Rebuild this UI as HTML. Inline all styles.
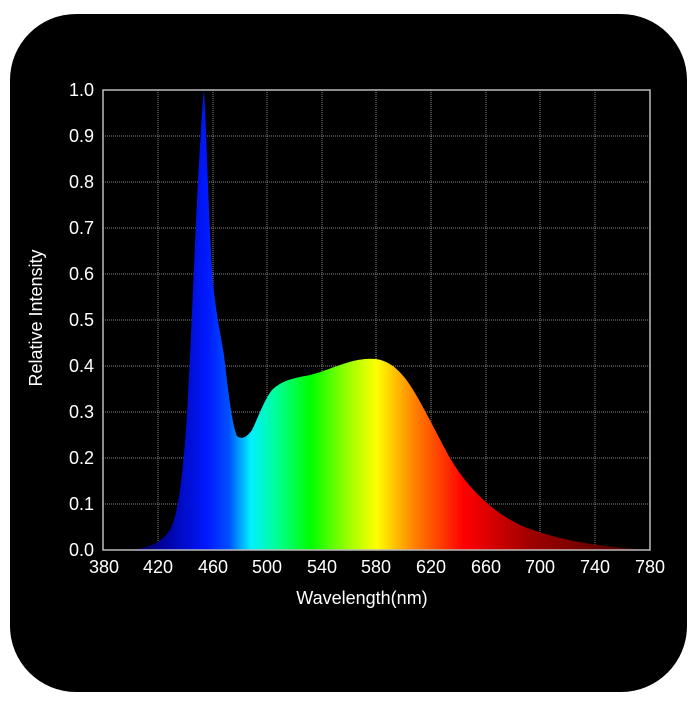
<!DOCTYPE html>
<html><head><style>html,body{margin:0;padding:0;background:#fff;}</style></head>
<body>
<svg width="700" height="700" xmlns="http://www.w3.org/2000/svg" font-family="Liberation Sans, sans-serif">
<rect x="0" y="0" width="700" height="700" fill="#fff"/>
<rect x="10" y="14" width="677" height="678" rx="66" ry="66" fill="#000"/>
<defs>
<linearGradient id="sp" gradientUnits="userSpaceOnUse" x1="103" y1="0" x2="650" y2="0">
<stop offset="0" stop-color="#000040"/>
<stop offset="0.1" stop-color="#000090"/>
<stop offset="0.19" stop-color="#0018ff"/>
<stop offset="0.23" stop-color="#0050ff"/>
<stop offset="0.27" stop-color="#00f0ff"/>
<stop offset="0.32" stop-color="#00ff90"/>
<stop offset="0.38" stop-color="#00ff00"/>
<stop offset="0.45" stop-color="#a0ff00"/>
<stop offset="0.5" stop-color="#ffff00"/>
<stop offset="0.57" stop-color="#ff8000"/>
<stop offset="0.66" stop-color="#ff0000"/>
<stop offset="0.78" stop-color="#a00000"/>
<stop offset="1" stop-color="#400000"/>
</linearGradient>
</defs>
<g stroke="#888" stroke-width="1" stroke-dasharray="1,1">
<line x1="158" y1="90" x2="158" y2="550"/><line x1="213" y1="90" x2="213" y2="550"/><line x1="267" y1="90" x2="267" y2="550"/><line x1="322" y1="90" x2="322" y2="550"/><line x1="376" y1="90" x2="376" y2="550"/><line x1="431" y1="90" x2="431" y2="550"/><line x1="486" y1="90" x2="486" y2="550"/><line x1="540" y1="90" x2="540" y2="550"/><line x1="595" y1="90" x2="595" y2="550"/>
<line x1="103" y1="136" x2="650" y2="136"/><line x1="103" y1="182" x2="650" y2="182"/><line x1="103" y1="228" x2="650" y2="228"/><line x1="103" y1="274" x2="650" y2="274"/><line x1="103" y1="320" x2="650" y2="320"/><line x1="103" y1="366" x2="650" y2="366"/><line x1="103" y1="412" x2="650" y2="412"/><line x1="103" y1="458" x2="650" y2="458"/><line x1="103" y1="504" x2="650" y2="504"/>
</g>
<path fill="url(#sp)" d="M130,550 C150,548 162,542 170,530 C178,515 182,480 186,430 C190,370 194,260 198,180 C201,130 203,95 204,91 C206,120 208,200 212,270 C215,310 220,330 224,355 C228,390 232,425 237,436 C242,440 247,437 252,430 C258,418 264,400 272,390 C282,380 295,378 310,375 C330,370 345,361 365,359 C385,357 395,366 405,378 C418,395 432,425 450,458 C468,488 490,510 520,525 C555,540 600,547 650,550 Z"/>
<rect x="103" y="90" width="547" height="460" fill="none" stroke="#bbb" stroke-width="1.5"/>
<g fill="#fff" font-size="18" text-anchor="end">
<text x="94" y="96">1.0</text><text x="94" y="142">0.9</text><text x="94" y="188">0.8</text><text x="94" y="234">0.7</text><text x="94" y="280">0.6</text><text x="94" y="326">0.5</text><text x="94" y="372">0.4</text><text x="94" y="418">0.3</text><text x="94" y="464">0.2</text><text x="94" y="510">0.1</text><text x="94" y="556">0.0</text>
</g>
<g fill="#fff" font-size="18" text-anchor="middle">
<text x="104" y="573">380</text><text x="158" y="573">420</text><text x="213" y="573">460</text><text x="267" y="573">500</text><text x="322" y="573">540</text><text x="376" y="573">580</text><text x="431" y="573">620</text><text x="486" y="573">660</text><text x="540" y="573">700</text><text x="595" y="573">740</text><text x="650" y="573">780</text>
<text x="362" y="604">Wavelength(nm)</text>
<text transform="translate(42,318) rotate(-90)">Relative Intensity</text>
</g>
</svg>
</body></html>
